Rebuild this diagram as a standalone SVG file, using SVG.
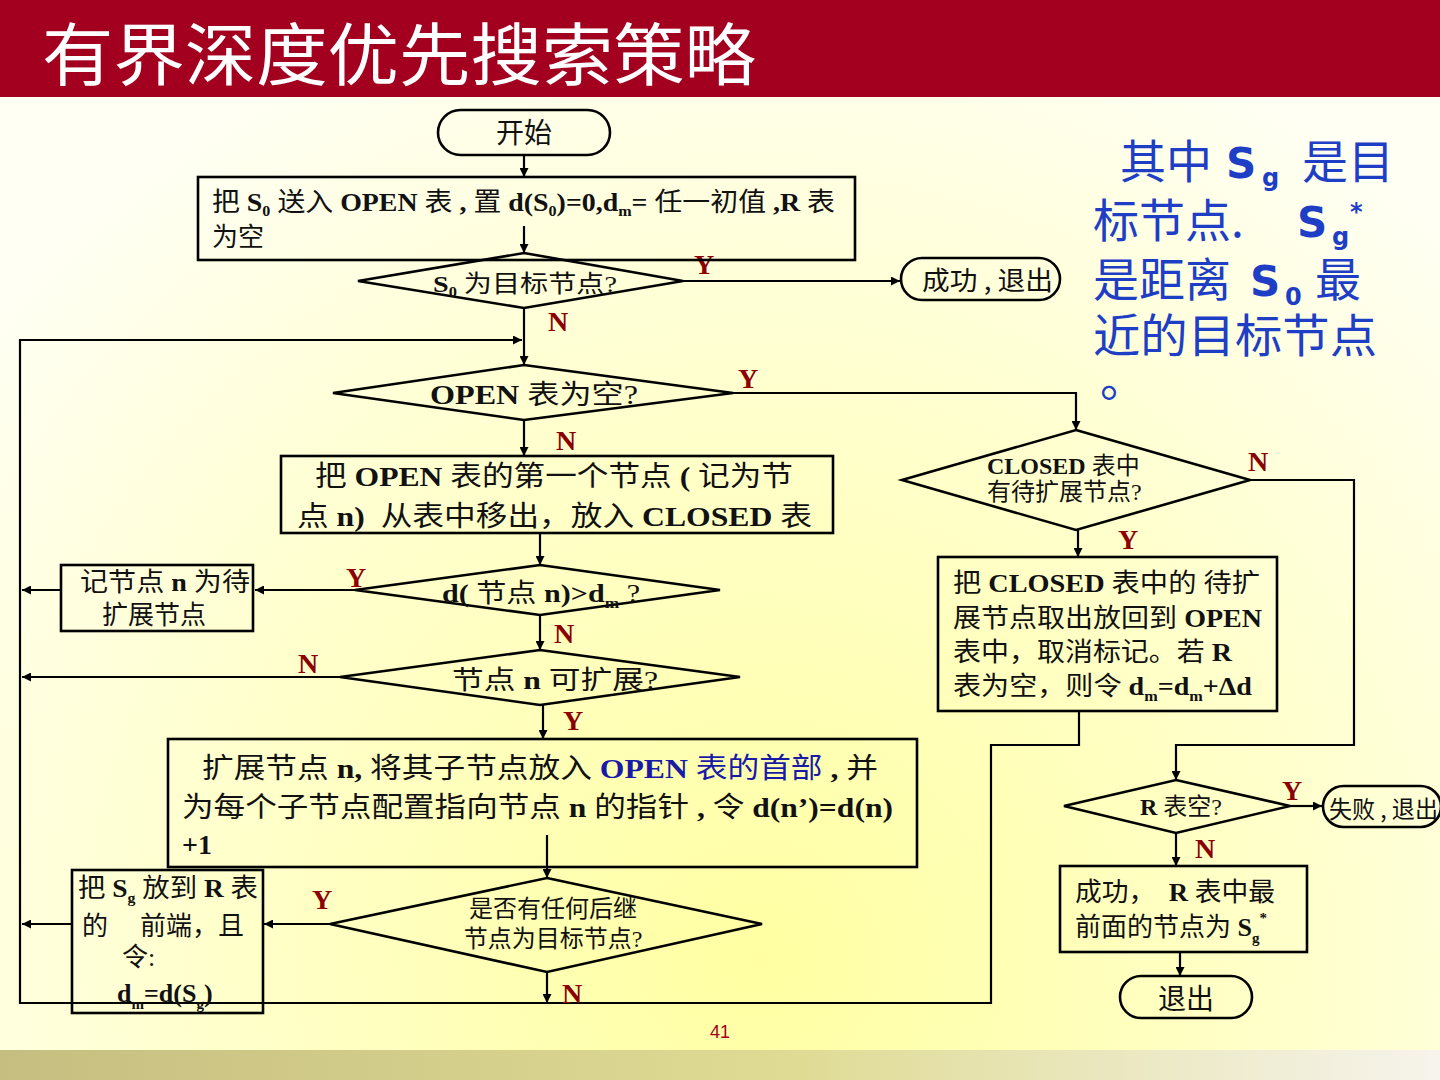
<svg xmlns="http://www.w3.org/2000/svg" width="1440" height="1080" viewBox="0 0 1440 1080">
<defs>
<radialGradient id="bg" cx="760" cy="960" r="1000" gradientUnits="userSpaceOnUse">
<stop offset="0" stop-color="#FFFFA2"/>
<stop offset="0.5" stop-color="#FFFFC8"/>
<stop offset="1" stop-color="#FFFFF3"/>
</radialGradient>
<linearGradient id="foot" x1="0" y1="0" x2="1" y2="0">
<stop offset="0" stop-color="#C6BE80"/>
<stop offset="0.55" stop-color="#DFDB94"/>
<stop offset="1" stop-color="#F6F4EC"/>
</linearGradient>
<marker id="ah" viewBox="0 0 10 10" refX="10" refY="5" markerWidth="12" markerHeight="9" markerUnits="userSpaceOnUse" orient="auto">
<path d="M0,0 L10,5 L0,10 z" fill="#000"/>
</marker>
</defs>
<style>
.shape{fill:none;stroke:#000;stroke-width:2.6}
.conn{fill:none;stroke:#000;stroke-width:2.2}
.t{font-family:"Liberation Serif","Noto Sans CJK SC",serif;fill:#111;white-space:pre}
.b{font-weight:bold}
.s{font-family:"Noto Sans CJK SC","Liberation Sans",sans-serif;fill:#111}
.lbl{font-family:"Liberation Serif",serif;font-weight:bold;font-size:28px;fill:#8B0000;text-anchor:middle}
.blue{font-family:"Noto Sans CJK SC","DejaVu Sans",sans-serif;fill:#1E3EC6;font-size:46px}
.bs{font-family:"DejaVu Sans","Liberation Sans",sans-serif;font-weight:bold;font-size:42px}
.sub{font-size:24px}
</style>
<rect x="0" y="0" width="1440" height="1080" fill="url(#bg)"/>
<rect x="0" y="1050" width="1440" height="30" fill="url(#foot)"/>
<rect x="0" y="0" width="1440" height="97" fill="#A30020"/>
<text x="42" y="80" font-family="Noto Sans CJK SC" font-size="68" fill="#fff" textLength="714" lengthAdjust="spacingAndGlyphs">有界深度优先搜索策略</text>

<g id="connectors">
<path class="conn" d="M524,155 V177" marker-end="url(#ah)"/>
<path class="conn" d="M524,226 V253" marker-end="url(#ah)"/>
<path class="conn" d="M683,281 H900" marker-end="url(#ah)"/>
<path class="conn" d="M524,308 V365" marker-end="url(#ah)"/>
<path class="conn" d="M1079,711 V745 H991 V1003 H20 V340 H522" marker-end="url(#ah)"/>
<path class="conn" d="M733,393 H1076 V430" marker-end="url(#ah)"/>
<path class="conn" d="M524,420 V456" marker-end="url(#ah)"/>
<path class="conn" d="M540,533 V565" marker-end="url(#ah)"/>
<path class="conn" d="M355,590 H255" marker-end="url(#ah)"/>
<path class="conn" d="M61,590 H22" marker-end="url(#ah)"/>
<path class="conn" d="M540,615 V650" marker-end="url(#ah)"/>
<path class="conn" d="M340,677 H22" marker-end="url(#ah)"/>
<path class="conn" d="M543,705 V739" marker-end="url(#ah)"/>
<path class="conn" d="M547,835 V878" marker-end="url(#ah)"/>
<path class="conn" d="M330,924 H264" marker-end="url(#ah)"/>
<path class="conn" d="M72,924 H22" marker-end="url(#ah)"/>
<path class="conn" d="M547,972 V1003" marker-end="url(#ah)"/>
<path class="conn" d="M1250,480 H1354 V745 H1176 V780" marker-end="url(#ah)"/>
<path class="conn" d="M1078,530 V557" marker-end="url(#ah)"/>
<path class="conn" d="M1290,806 H1322" marker-end="url(#ah)"/>
<path class="conn" d="M1176,833 V866" marker-end="url(#ah)"/>
<path class="conn" d="M1180,952 V976" marker-end="url(#ah)"/>
<text class="lbl" x="704" y="274">Y</text>
<text class="lbl" x="558" y="331">N</text>
<text class="lbl" x="748" y="388">Y</text>
<text class="lbl" x="566" y="450">N</text>
<text class="lbl" x="1258" y="471">N</text>
<text class="lbl" x="1128" y="549">Y</text>
<text class="lbl" x="356" y="587">Y</text>
<text class="lbl" x="564" y="643">N</text>
<text class="lbl" x="308" y="673">N</text>
<text class="lbl" x="573" y="730">Y</text>
<text class="lbl" x="322" y="909">Y</text>
<text class="lbl" x="572" y="1003">N</text>
<text class="lbl" x="1292" y="800">Y</text>
<text class="lbl" x="1205" y="858">N</text>
</g>

<g id="start">
<rect class="shape" x="438" y="110" width="172" height="45" rx="22.5"/>
<text class="s" x="524" y="143" font-size="28" text-anchor="middle">开始</text>
</g>

<g id="init">
<rect class="shape" x="198" y="177" width="657" height="83"/>
<text class="t" x="212" y="211" font-size="26" textLength="623" lengthAdjust="spacingAndGlyphs">把 <tspan class="b">S</tspan><tspan class="b" font-size="15" dy="5">0</tspan><tspan dy="-5"> 送入 </tspan><tspan class="b">OPEN</tspan> 表 <tspan class="b">, </tspan>置 <tspan class="b">d(S</tspan><tspan class="b" font-size="15" dy="5">0</tspan><tspan class="b" dy="-5">)=0,d</tspan><tspan class="b" font-size="15" dy="5">m</tspan><tspan class="b" dy="-5">=</tspan> 任一初值 <tspan class="b">,R</tspan> 表</text>
<text class="t" x="212" y="246" font-size="26">为空</text>
</g>

<g id="s0goal">
<polygon class="shape" points="524,253 683,281 524,308 358,281"/>
<text class="t" x="433" y="292" font-size="24" textLength="184" lengthAdjust="spacingAndGlyphs"><tspan class="b">S</tspan><tspan class="b" font-size="14" dy="5">0</tspan><tspan dy="-5"> 为目标节点?</tspan></text>
</g>

<g id="success1">
<rect class="shape" x="901" y="258" width="159" height="42" rx="21"/>
<text class="s" x="922" y="290" font-size="26" textLength="131" lengthAdjust="spacingAndGlyphs">成功 , 退出</text>
</g>

<g id="openEmpty">
<polygon class="shape" points="524,365 733,393 524,420 333,393"/>
<text class="t" x="430" y="404" font-size="27" textLength="208" lengthAdjust="spacingAndGlyphs"><tspan class="b">OPEN</tspan> 表为空?</text>
</g>

<g id="moveFirst">
<rect class="shape" x="281" y="456" width="552" height="77"/>
<text class="t" x="315" y="486" font-size="28" textLength="478" lengthAdjust="spacingAndGlyphs">把 <tspan class="b">OPEN</tspan> 表的第一个节点 <tspan class="b">(</tspan> 记为节</text>
<text class="t" x="297" y="526" font-size="28" textLength="515" lengthAdjust="spacingAndGlyphs">点 <tspan class="b">n)</tspan>  从表中移出，放入 <tspan class="b">CLOSED</tspan> 表</text>
</g>

<g id="depthCheck">
<polygon class="shape" points="540,565 720,590 540,615 355,590"/>
<text class="t" x="442" y="602" font-size="26" textLength="198" lengthAdjust="spacingAndGlyphs"><tspan class="b">d(</tspan> 节点 <tspan class="b">n)&gt;d</tspan><tspan class="b" font-size="15" dy="6">m</tspan><tspan dy="-6"> ?</tspan></text>
</g>

<g id="markPending">
<rect class="shape" x="61" y="565" width="192" height="66"/>
<text class="t" x="80" y="591" font-size="26" textLength="170" lengthAdjust="spacingAndGlyphs">记节点 <tspan class="b">n</tspan> 为待</text>
<text class="t" x="102" y="624" font-size="26">扩展节点</text>
</g>

<g id="expandable">
<polygon class="shape" points="540,650 740,677 540,705 340,677"/>
<text class="t" x="452" y="689" font-size="26" textLength="206" lengthAdjust="spacingAndGlyphs">节点 <tspan class="b">n</tspan> 可扩展?</text>
</g>

<g id="expand">
<rect class="shape" x="168" y="739" width="749" height="128"/>
<text class="t" x="202" y="778" font-size="28" textLength="676" lengthAdjust="spacingAndGlyphs">扩展节点 <tspan class="b">n,</tspan> 将其子节点放入 <tspan class="b" fill="#1A1AA8">OPEN</tspan><tspan fill="#1A1AA8"> 表的首部</tspan><tspan class="b"> ,</tspan> 并</text>
<text class="t" x="182" y="817" font-size="28" textLength="711" lengthAdjust="spacingAndGlyphs">为每个子节点配置指向节点 <tspan class="b">n</tspan> 的指针 <tspan class="b">,</tspan> 令 <tspan class="b">d(n’)=d(n)</tspan></text>
<text class="t b" x="182" y="854" font-size="28">+1</text>
</g>

<g id="goalSucc">
<polygon class="shape" points="547,878 762,924 547,972 330,924"/>
<text class="t" x="553" y="917" font-size="24" text-anchor="middle">是否有任何后继</text>
<text class="t" x="553" y="947" font-size="24" text-anchor="middle">节点为目标节点?</text>
</g>

<g id="putR">
<rect class="shape" x="72" y="870" width="191" height="143"/>
<text class="t" x="78" y="897" font-size="26" textLength="180" lengthAdjust="spacingAndGlyphs">把 <tspan class="b">S</tspan><tspan class="b" font-size="15" dy="6">g</tspan><tspan dy="-6"> 放到 </tspan><tspan class="b">R</tspan> 表</text>
<text class="t" x="82" y="935" font-size="26">的</text>
<text class="t" x="140" y="935" font-size="26">前端，且</text>
<text class="t" x="122" y="966" font-size="26">令:</text>
<text class="t b" x="117" y="1002" font-size="26"><tspan>d</tspan><tspan font-size="15" dy="7">m</tspan><tspan dy="-7">=d(S</tspan><tspan font-size="15" dy="7">g</tspan><tspan dy="-7">)</tspan></text>
</g>

<g id="closedPending">
<polygon class="shape" points="1076,430 1250,480 1076,530 902,480"/>
<text class="t" x="987" y="474" font-size="24"><tspan class="b">CLOSED</tspan> 表中</text>
<text class="t" x="987" y="500" font-size="24">有待扩展节点?</text>
</g>

<g id="restore">
<rect class="shape" x="938" y="557" width="339" height="154"/>
<text class="t" x="953" y="592" font-size="26" textLength="307" lengthAdjust="spacingAndGlyphs">把 <tspan class="b">CLOSED</tspan> 表中的 待扩</text>
<text class="t" x="953" y="627" font-size="26" textLength="309" lengthAdjust="spacingAndGlyphs">展节点取出放回到 <tspan class="b">OPEN</tspan></text>
<text class="t" x="953" y="661" font-size="26" textLength="279" lengthAdjust="spacingAndGlyphs">表中，取消标记。若 <tspan class="b">R</tspan></text>
<text class="t" x="953" y="695" font-size="26" textLength="299" lengthAdjust="spacingAndGlyphs">表为空，则令 <tspan class="b">d</tspan><tspan class="b" font-size="15" dy="6">m</tspan><tspan class="b" dy="-6">=d</tspan><tspan class="b" font-size="15" dy="6">m</tspan><tspan class="b" dy="-6">+Δd</tspan></text>
</g>

<g id="rEmpty">
<polygon class="shape" points="1176,780 1290,806 1176,833 1064,806"/>
<text class="t" x="1140" y="815" font-size="24"><tspan class="b">R</tspan> 表空?</text>
</g>

<g id="fail">
<rect class="shape" x="1323" y="786" width="118" height="41" rx="20.5"/>
<text class="s" x="1329" y="818" font-size="24" textLength="109" lengthAdjust="spacingAndGlyphs">失败 , 退出</text>
</g>

<g id="successR">
<rect class="shape" x="1060" y="866" width="247" height="86"/>
<text class="t" x="1075" y="901" font-size="26" textLength="200" lengthAdjust="spacingAndGlyphs">成功，  <tspan class="b">R</tspan> 表中最</text>
<text class="t" x="1075" y="936" font-size="26">前面的节点为 <tspan class="b">S</tspan><tspan class="b" font-size="15" dy="7">g</tspan><tspan class="b" font-size="15" dy="-20">*</tspan></text>
</g>

<g id="exit">
<rect class="shape" x="1120" y="976" width="132" height="42" rx="21"/>
<text class="s" x="1186" y="1009" font-size="28" text-anchor="middle">退出</text>
</g>

<g id="note">
<text class="blue" x="1120" y="178">其中</text>
<text class="blue bs" x="1226" y="178">S</text>
<text class="blue bs sub" x="1262" y="186">g</text>
<text class="blue" x="1302" y="178">是目</text>
<text class="blue" x="1093" y="237">标节点.</text>
<text class="blue bs" x="1297" y="237">S</text>
<text class="blue bs sub" x="1332" y="245">g</text>
<text class="blue bs sub" x="1350" y="220">*</text>
<text class="blue" x="1093" y="296">是距离</text>
<text class="blue bs" x="1250" y="296">S</text>
<text class="blue bs sub" x="1285" y="305">0</text>
<text class="blue" x="1315" y="296">最</text>
<text class="blue" x="1093" y="352" textLength="284" lengthAdjust="spacingAndGlyphs">近的目标节点</text>
<text class="blue" x="1100" y="396">。</text>
</g>

<text x="720" y="1038" font-family="Liberation Sans" font-size="18" fill="#A0001E" text-anchor="middle">41</text>
</svg>
